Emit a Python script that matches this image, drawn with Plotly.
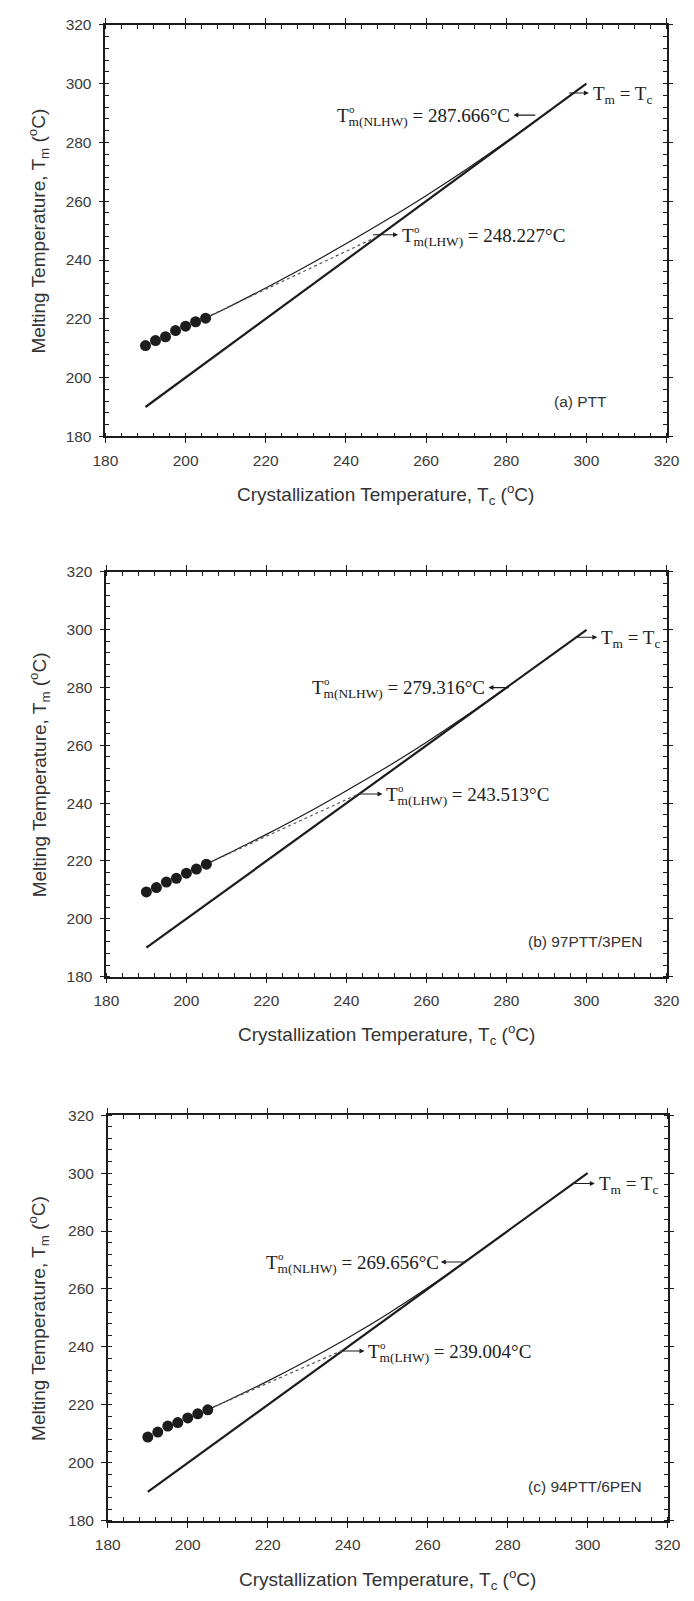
import plotly.graph_objects as go

# Isothermal crystallization temperatures (°C)
tc_data = [190, 192.5, 195, 197.5, 200, 202.5, 205]

# Observed melting temperatures (°C) for each sample
tm_ptt = [210.9, 212.6, 213.9, 216.0, 217.5, 219.0, 220.2]
tm_97 = [209.3, 210.8, 212.7, 214.0, 215.8, 217.2, 218.9]
tm_94 = [208.9, 210.6, 212.7, 213.9, 215.5, 216.9, 218.3]

# Tm = Tc reference line end points
eq_tc = [190, 300]
eq_tm = [190, 300]

# Non-linear Hoffman-Weeks curves
nlhw_tc_ptt = [205, 210, 220, 230, 240, 250, 260, 270, 280, 287.666]
nlhw_tm_ptt = [220.2, 223.5, 230.5, 237.8, 245.5, 253.5, 261.9, 270.8, 280.2, 287.666]
nlhw_tc_97 = [205, 210, 220, 230, 240, 250, 260, 270, 279.316]
nlhw_tm_97 = [218.9, 222.3, 229.2, 236.5, 244.3, 252.4, 261.1, 270.3, 279.316]
nlhw_tc_94 = [205, 210, 220, 230, 240, 250, 260, 269.656]
nlhw_tm_94 = [218.3, 221.5, 228.2, 235.4, 243.1, 251.4, 260.4, 269.656]

# Linear Hoffman-Weeks extrapolations
lhw_tc_ptt = [205, 248.227]
lhw_tm_ptt = [220.4, 248.227]
lhw_tc_97 = [205, 243.513]
lhw_tm_97 = [219.0, 243.513]
lhw_tc_94 = [205, 239.004]
lhw_tm_94 = [218.4, 239.004]

# Equilibrium melting temperatures
tm0_nlhw = ["287.666", "279.316", "269.656"]
tm0_lhw = ["248.227", "243.513", "239.004"]
panel_labels = ["(a) PTT", "(b) 97PTT/3PEN", "(c) 94PTT/6PEN"]

axis_ticks = [180, 200, 220, 240, 260, 280, 300, 320]

INK = "#1c1c1c"
LABEL = "#3a3a3a"
SANS = "Liberation Sans, Arial, sans-serif"
SERIF = "Liberation Serif, Times New Roman, serif"

W, H = 694, 1601

# panel frames in pixels: (left, right, top, bottom)
frames = [(96, 679, 16, 432), (97, 679, 569, 978), (98.5, 680, 1118, 1528)]

panels = [
    dict(tm=tm_ptt, ntc=nlhw_tc_ptt, ntm=nlhw_tm_ptt, ltc=lhw_tc_ptt, ltm=lhw_tm_ptt,
         # arrow anchors (Tc, Tm): NLHW head/tail, LHW tail/head, Tm=Tc tail/head
         n_head=(281.8, 289.3), n_tail=(287.5, 289.3), n_left=237.2,
         l_tail=(246.5, 248.6), l_head=(253.0, 248.6),
         e_tail=(295.4, 296.8), e_head=(300.6, 296.8),
         lab_x=305.6),
    dict(tm=tm_97, ntc=nlhw_tc_97, ntm=nlhw_tm_97, ltc=lhw_tc_97, ltm=lhw_tm_97,
         n_head=(275.5, 280.0), n_tail=(280.8, 280.0), n_left=231.0,
         l_tail=(242.8, 243.2), l_head=(249.0, 243.2),
         e_tail=(297.4, 297.4), e_head=(302.7, 297.4),
         lab_x=314.5),
    dict(tm=tm_94, ntc=nlhw_tc_94, ntm=nlhw_tm_94, ltc=lhw_tc_94, ltm=lhw_tm_94,
         n_head=(263.3, 269.3), n_tail=(269.7, 269.3), n_left=219.0,
         l_tail=(238.6, 238.6), l_head=(244.2, 238.6),
         e_tail=(296.6, 296.4), e_head=(301.8, 296.4),
         lab_x=314.0),
]

fig = go.Figure()
annotations = []
layout = dict(
    width=W, height=H,
    margin=dict(l=0, r=0, t=0, b=0),
    paper_bgcolor="white", plot_bgcolor="white",
    showlegend=False,
)

serif = dict(family=SERIF, size=19, color="#202020")
degree_font = dict(family=SERIF, size=11, color="#202020")


def value_label(xa, ya, x, y, sub, value):
    """T with a stacked 'o' superscript over the subscript, then the value."""
    main = dict(xref=xa, yref=ya, x=x, y=y, showarrow=False,
                xanchor="left", yanchor="middle", font=serif,
                text="T<sub>" + sub + "</sub> = " + value + "°C")
    deg = dict(xref=xa, yref=ya, x=x, y=y, showarrow=False,
               xanchor="left", yanchor="middle", font=degree_font,
               text="o", xshift=12, yshift=8)
    return [main, deg]


for i, (p, fr) in enumerate(zip(panels, frames)):
    n = i + 1
    xs = "" if n == 1 else str(n)
    xa, ya = "x" + xs, "y" + xs
    left, right, top, bottom = fr
    xdom = [left / W, right / W]
    ydom = [1 - bottom / H, 1 - top / H]

    # Tm = Tc line
    fig.add_trace(go.Scatter(x=eq_tc, y=eq_tm, mode="lines",
                             line=dict(color=INK, width=2.2), xaxis=xa, yaxis=ya))
    # non-linear HW curve
    fig.add_trace(go.Scatter(x=p["ntc"], y=p["ntm"], mode="lines", line_shape="spline",
                             line=dict(color=INK, width=1.2), xaxis=xa, yaxis=ya))
    # linear HW extrapolation
    fig.add_trace(go.Scatter(x=p["ltc"], y=p["ltm"], mode="lines",
                             line=dict(color="#555555", width=1.2, dash="dot"),
                             xaxis=xa, yaxis=ya))
    # measured points
    fig.add_trace(go.Scatter(x=tc_data, y=p["tm"], mode="markers",
                             marker=dict(color=INK, size=11, line=dict(width=0)),
                             xaxis=xa, yaxis=ya))

    common = dict(range=[180, 320], showgrid=False, zeroline=False,
                  showline=True, linecolor=INK, linewidth=1.6, mirror="allticks")
    # primary axes: labels, outward major ticks, inward minor ticks
    layout["xaxis" + xs] = dict(
        common, domain=xdom, anchor=ya, tickvals=axis_ticks,
        ticks="outside", ticklen=5, tickwidth=1.4, tickcolor=INK,
        minor=dict(ticks="inside", dtick=4, ticklen=4, tickwidth=1.1, tickcolor=INK),
        tickfont=dict(family=SANS, size=15.5, color=LABEL), ticklabelstandoff=4)
    layout["yaxis" + xs] = dict(
        common, domain=ydom, anchor=xa, tickvals=axis_ticks,
        ticks="outside", ticklen=5, tickwidth=1.4, tickcolor=INK,
        minor=dict(ticks="inside", dtick=4, ticklen=4, tickwidth=1.1, tickcolor=INK),
        tickfont=dict(family=SANS, size=15.5, color=LABEL), ticklabelstandoff=4)
    # overlay axes supplying the inward half of each major tick
    ox, oy = str(n + 3), str(n + 3)
    layout["xaxis" + ox] = dict(
        common, overlaying=xa, anchor=ya, tickvals=axis_ticks, ticks="inside",
        ticklen=5, tickwidth=1.4, tickcolor=INK, showticklabels=False)
    layout["yaxis" + oy] = dict(
        common, overlaying=ya, anchor=xa, tickvals=axis_ticks, ticks="inside",
        ticklen=5, tickwidth=1.4, tickcolor=INK, showticklabels=False)

    # axis titles
    annotations.append(dict(
        xref="paper", yref="paper", x=((left + right) / 2) / W, y=1 - (bottom + 59) / H,
        text="Crystallization Temperature, T<sub>c</sub> (<sup>o</sup>C)",
        showarrow=False, xanchor="center", yanchor="middle",
        font=dict(family=SANS, size=19, color="#333333")))
    annotations.append(dict(
        xref="paper", yref="paper", x=27 / W, y=1 - ((top + bottom) / 2) / H,
        text="Melting Temperature, T<sub>m</sub> (<sup>o</sup>C)", textangle=-90,
        showarrow=False, xanchor="center", yanchor="middle",
        font=dict(family=SANS, size=19, color="#333333")))

    # panel label
    annotations.append(dict(
        xref=xa, yref=ya, x=p["lab_x"], y=192, text=panel_labels[i],
        showarrow=False, xanchor="right", yanchor="middle",
        font=dict(family=SANS, size=15.5, color="#333333")))

    arrow = dict(xref=xa, yref=ya, axref=xa, ayref=ya, text=" ", showarrow=True,
                 arrowhead=2, arrowsize=0.9, arrowwidth=1.1, arrowcolor=INK,
                 standoff=0, startstandoff=0, borderpad=0,
                 font=dict(size=2))

    # NLHW value
    annotations.append(dict(arrow, x=p["n_head"][0], y=p["n_head"][1],
                            ax=p["n_tail"][0], ay=p["n_tail"][1]))
    annotations += value_label(xa, ya, p["n_left"], p["n_head"][1] - 0.6,
                               "m(NLHW)", tm0_nlhw[i])
    # LHW value
    annotations.append(dict(arrow, x=p["l_head"][0], y=p["l_head"][1],
                            ax=p["l_tail"][0], ay=p["l_tail"][1]))
    annotations += value_label(xa, ya, p["l_head"][0] + 0.4, p["l_head"][1] - 0.6,
                               "m(LHW)", tm0_lhw[i])
    # Tm = Tc
    annotations.append(dict(arrow, x=p["e_head"][0], y=p["e_head"][1],
                            ax=p["e_tail"][0], ay=p["e_tail"][1]))
    annotations.append(dict(
        xref=xa, yref=ya, x=p["e_head"][0] + 0.5, y=p["e_head"][1] - 0.6,
        text="T<sub>m</sub> = T<sub>c</sub>",
        showarrow=False, xanchor="left", yanchor="middle", font=serif))

layout["annotations"] = annotations
fig.update_layout(**layout)

# let the figure fill the page edge to edge
fig.write_html("out.html",
               post_script="document.body.style.margin='0';"
                           "document.documentElement.style.margin='0';")
